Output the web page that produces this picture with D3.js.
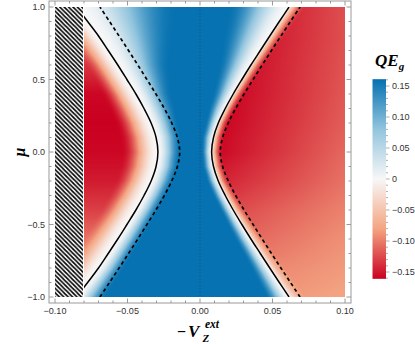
<!DOCTYPE html>
<html>
<head>
<meta charset="utf-8">
<script src="https://cdn.jsdelivr.net/npm/d3@7"></script>
<style>
	body { margin: 0; background: #fff; }
	svg { display: block; }
</style>
</head>
<body>
<div id="chart"></div>
<script>
const w = 415;
const h = 344;

// contour curves, one x value per mu level
const muLevels = [-1, -0.9, -0.8, -0.7, -0.6, -0.5, -0.4, -0.3, -0.2, -0.1, 0, 0.1, 0.2, 0.3, 0.4, 0.5, 0.6, 0.7, 0.8, 0.9, 1];
const solidLeft = [-0.085, -0.0775, -0.07, -0.0633, -0.0567, -0.0504, -0.0442, -0.0386, -0.0337, -0.0303, -0.029, -0.0303, -0.0337, -0.0386, -0.0442, -0.0504, -0.0567, -0.0633, -0.07, -0.0775, -0.085];
const solidRight = [0.0614, 0.0547, 0.0481, 0.0416, 0.0351, 0.0289, 0.0229, 0.0174, 0.0126, 0.0093, 0.008, 0.0093, 0.0126, 0.0174, 0.0229, 0.0289, 0.0351, 0.0416, 0.0481, 0.0547, 0.0614];
const dashedLeft = [-0.069, -0.0624, -0.0558, -0.0493, -0.0429, -0.0366, -0.0304, -0.0246, -0.0195, -0.0156, -0.014, -0.0156, -0.0195, -0.0246, -0.0304, -0.0366, -0.0429, -0.0493, -0.0558, -0.0624, -0.069];
const dashedRight = [0.069, 0.0624, 0.0558, 0.0493, 0.0429, 0.0366, 0.0304, 0.0246, 0.0195, 0.0156, 0.014, 0.0156, 0.0195, 0.0246, 0.0304, 0.0366, 0.0429, 0.0493, 0.0558, 0.0624, 0.069];

// colour profile of QE_g along each row, read at these mu levels
const profileMu = [-1, -0.8, -0.6, -0.4, -0.2, 0, 0.2, 0.4, 0.6, 0.8, 1];
const leftPeak = [-0.07, -0.085, -0.105, -0.13, -0.148, -0.158, -0.161, -0.158, -0.135, -0.1, -0.07];
const leftWidth = [0.02, 0.022, 0.024, 0.025, 0.025, 0.025, 0.025, 0.024, 0.022, 0.02, 0.02];
const bluePeak = [0.16, 0.16, 0.16, 0.16, 0.16, 0.16, 0.16, 0.16, 0.16, 0.16, 0.16];
const innerLeftWidth = [0.02, 0.018, 0.017, 0.016, 0.016, 0.016, 0.019, 0.025, 0.036, 0.052, 0.07];
const innerRightWidth = [0.016, 0.013, 0.011, 0.009, 0.008, 0.007, 0.009, 0.014, 0.022, 0.032, 0.042];
const outerRightWidth = [0.012, 0.011, 0.01, 0.009, 0.008, 0.008, 0.008, 0.009, 0.01, 0.011, 0.012];
const rightNear = [-0.085, -0.095, -0.11, -0.125, -0.145, -0.16, -0.161, -0.158, -0.153, -0.148, -0.143];
const rightEdge = [-0.08, -0.085, -0.09, -0.097, -0.105, -0.11, -0.115, -0.118, -0.12, -0.122, -0.122];

const hatchEdge = -0.08;
const xTicks = [-0.1, -0.05, 0, 0.05, 0.1];
const yTicks = [-1, -0.5, 0, 0.5, 1];
const barTicks = [-0.15, -0.1, -0.05, 0, 0.05, 0.1, 0.15];
const colorStops = [-0.161, -0.08, 0, 0.08, 0.161];
const colorList = ['#ca0020', '#f4a582', '#f7f7f7', '#92c5de', '#0571b0'];

const x = d3.scaleLinear().domain([-0.1, 0.1]).range([55, 345]);
const y = d3.scaleLinear().domain([-1, 1]).range([297, 7]);
const color = d3.scaleLinear().domain(colorStops).range(colorList).clamp(true);

const frame = {left: 49, right: 351, top: 1, bottom: 303};

const svg = d3
	.select('#chart')
	.append('svg')
	.attr('width', w)
	.attr('height', h)
	.attr('viewBox', `0 0 ${w} ${h}`)
	.style('font-family', 'Liberation Sans, Arial, sans-serif');

// ---- density image ----
const muScale = arr => d3.scaleLinear().domain(muLevels).range(arr);
const profScale = arr => d3.scaleLinear().domain(profileMu).range(arr);
const sL = muScale(solidLeft);
const sR = muScale(solidRight);
const pLeftPeak = profScale(leftPeak);
const pLeftW = profScale(leftWidth);
const pBlue = profScale(bluePeak);
const pInL = profScale(innerLeftWidth);
const pInR = profScale(innerRightWidth);
const pOutR = profScale(outerRightWidth);
const pNear = profScale(rightNear);
const pEdge = profScale(rightEdge);

const px0 = Math.round(x(hatchEdge));
const px1 = Math.round(x(0.1));
const py0 = Math.round(y(1));
const py1 = Math.round(y(-1));
const cw = px1 - px0;
const ch = py1 - py0;

const canvas = document.createElement('canvas');
canvas.width = cw;
canvas.height = ch;
const ctx = canvas.getContext('2d');
const img = ctx.createImageData(cw, ch);

for (let j = 0; j < ch; j++) {
	const mu = y.invert(py0 + j + 0.5);
	const left = sL(mu);
	const right = sR(mu);
	for (let i = 0; i < cw; i++) {
		const xv = x.invert(px0 + i + 0.5);
		let v;
		if (xv < left) {
			const t = Math.min(1, (left - xv) / pLeftW(mu));
			v = pLeftPeak(mu) * d3.easeSinInOut(t);
		} else if (xv > right) {
			const t = Math.min(1, (xv - right) / pOutR(mu));
			const amp = pNear(mu) + (pEdge(mu) - pNear(mu)) * Math.min(1, (xv - right) / (0.1 - right));
			v = amp * d3.easeQuadOut(t);
		} else {
			const tl = Math.min(1, (xv - left) / pInL(mu));
			const tr = Math.min(1, (right - xv) / pInR(mu));
			v = pBlue(mu) * Math.min(d3.easeSinInOut(tl), d3.easeSinInOut(tr));
		}
		const c = d3.rgb(color(v));
		const k = (j * cw + i) * 4;
		img.data[k] = c.r;
		img.data[k + 1] = c.g;
		img.data[k + 2] = c.b;
		img.data[k + 3] = 255;
	}
}
ctx.putImageData(img, 0, 0);

svg
	.append('image')
	.attr('x', px0)
	.attr('y', py0)
	.attr('width', cw)
	.attr('height', ch)
	.attr('preserveAspectRatio', 'none')
	.attr('href', canvas.toDataURL());

// ---- hatched strip ----
const defs = svg.append('defs');
const hp = 4.4;
const pat = defs
	.append('pattern')
	.attr('id', 'hatch')
	.attr('patternUnits', 'userSpaceOnUse')
	.attr('width', hp)
	.attr('height', hp);
pat.append('rect').attr('width', hp).attr('height', hp).attr('fill', '#fff');
pat
	.append('path')
	.attr('d', `M-1,-1 L${hp + 1},${hp + 1} M-1,${hp - 1} L1,${hp + 1} M${hp - 1},-1 L${hp + 1},1`)
	.attr('stroke', '#000')
	.attr('stroke-width', 1.6);

svg
	.append('rect')
	.attr('x', x(-0.1))
	.attr('y', y(1))
	.attr('width', x(hatchEdge) - x(-0.1) - 1)
	.attr('height', y(-1) - y(1))
	.attr('fill', 'url(#hatch)');

// ---- dotted line at zero ----
svg
	.append('line')
	.attr('x1', x(0))
	.attr('x2', x(0))
	.attr('y1', y(1))
	.attr('y2', y(-1))
	.attr('stroke', '#1d3550')
	.attr('stroke-width', 0.8)
	.attr('stroke-dasharray', '1,2.2')
	.attr('opacity', 0.7);

// ---- contour curves ----
defs
	.append('clipPath')
	.attr('id', 'clip')
	.append('rect')
	.attr('x', x(hatchEdge))
	.attr('y', y(1))
	.attr('width', x(0.1) - x(hatchEdge))
	.attr('height', y(-1) - y(1));

const curve = d3
	.line()
	.x(d => x(d[0]))
	.y(d => y(d[1]))
	.curve(d3.curveCatmullRom);

const curves = svg.append('g').attr('clip-path', 'url(#clip)').attr('fill', 'none').attr('stroke', '#000');

[solidLeft, solidRight].forEach(arr => {
	curves
		.append('path')
		.attr('d', curve(arr.map((v, i) => [v, muLevels[i]])))
		.attr('stroke-width', 1.5);
});
[dashedLeft, dashedRight].forEach(arr => {
	curves
		.append('path')
		.attr('d', curve(arr.map((v, i) => [v, muLevels[i]])))
		.attr('stroke-width', 1.7)
		.attr('stroke-dasharray', '3.5,3');
});

// ---- frame and ticks ----
svg
	.append('rect')
	.attr('x', frame.left)
	.attr('y', frame.top)
	.attr('width', frame.right - frame.left)
	.attr('height', frame.bottom - frame.top)
	.attr('fill', 'none')
	.attr('stroke', '#9a9a9a')
	.attr('stroke-width', 1);

const ticksG = svg.append('g').attr('stroke', '#9a9a9a').attr('stroke-width', 1);
const xMinor = d3.range(-10, 11).map(i => i / 100);
const yMinor = d3.range(-10, 11).map(i => i / 10);

xMinor.forEach(v => {
	const major = xTicks.some(t => Math.abs(t - v) < 1e-9);
	const len = major ? 4.5 : 2.5;
	ticksG.append('line').attr('x1', x(v)).attr('x2', x(v)).attr('y1', frame.bottom).attr('y2', frame.bottom - len);
	ticksG.append('line').attr('x1', x(v)).attr('x2', x(v)).attr('y1', frame.top).attr('y2', frame.top + len);
});
yMinor.forEach(v => {
	const major = yTicks.some(t => Math.abs(t - v) < 1e-9);
	const len = major ? 4.5 : 2.5;
	ticksG.append('line').attr('y1', y(v)).attr('y2', y(v)).attr('x1', frame.left).attr('x2', frame.left + len);
	ticksG.append('line').attr('y1', y(v)).attr('y2', y(v)).attr('x1', frame.right).attr('x2', frame.right - len);
});

const fmt2 = d3.format('.2f');
const fmt1 = d3.format('.1f');

svg
	.append('g')
	.selectAll('text')
	.data(xTicks)
	.enter()
	.append('text')
	.attr('x', d => x(d))
	.attr('y', 314)
	.attr('text-anchor', 'middle')
	.style('font-size', '9px')
	.attr('fill', '#333')
	.text(d => fmt2(d));

svg
	.append('g')
	.selectAll('text')
	.data(yTicks)
	.enter()
	.append('text')
	.attr('x', 45)
	.attr('y', d => y(d) + 3.2)
	.attr('text-anchor', 'end')
	.style('font-size', '9px')
	.attr('fill', '#333')
	.text(d => fmt1(d));

// ---- axis labels ----
const serif = 'Liberation Serif, Times New Roman, serif';

svg
	.append('text')
	.attr('transform', `translate(20, ${y(0)}) rotate(-90)`)
	.attr('text-anchor', 'middle')
	.attr('dy', '0.3em')
	.style('font-family', serif)
	.style('font-size', '16px')
	.style('font-weight', 'bold')
	.style('font-style', 'italic')
	.text('μ');

const xl = svg
	.append('g')
	.style('font-family', serif)
	.style('font-weight', 'bold')
	.style('font-style', 'italic');
xl.append('text').attr('x', 177).attr('y', 337).style('font-size', '16px').style('font-style', 'normal').text('−');
xl.append('text').attr('x', 188).attr('y', 337).style('font-size', '17px').text('V');
xl.append('text').attr('x', 205).attr('y', 328).style('font-size', '11.5px').text('ext');
xl.append('text').attr('x', 202.5).attr('y', 341.5).style('font-size', '11px').text('Z');

// ---- colour bar ----
const cb = d3.scaleLinear().domain([-0.15, 0.15]).range([272, 86]);
const grad = defs
	.append('linearGradient')
	.attr('id', 'cbgrad')
	.attr('x1', 0)
	.attr('x2', 0)
	.attr('y1', 1)
	.attr('y2', 0);
colorStops.forEach((s, i) => {
	grad
		.append('stop')
		.attr('offset', (s - colorStops[0]) / (colorStops[4] - colorStops[0]))
		.attr('stop-color', colorList[i]);
});
svg
	.append('rect')
	.attr('x', 372.5)
	.attr('y', cb(0.161))
	.attr('width', 13.5)
	.attr('height', cb(-0.161) - cb(0.161))
	.attr('fill', 'url(#cbgrad)');

const cbTicks = svg.append('g').attr('stroke', '#9a9a9a').attr('stroke-width', 0.8);
d3.range(-16, 17).map(i => i / 100).forEach(v => {
	const major = barTicks.some(t => Math.abs(t - v) < 1e-9);
	cbTicks
		.append('line')
		.attr('x1', 386)
		.attr('x2', major ? 389.5 : 388)
		.attr('y1', cb(v))
		.attr('y2', cb(v));
});

svg
	.append('g')
	.selectAll('text')
	.data(barTicks)
	.enter()
	.append('text')
	.attr('x', 392)
	.attr('y', d => cb(d) + 3.2)
	.style('font-size', '9px')
	.attr('fill', '#333')
	.text(d => (d === 0 ? '0' : fmt2(d)));

const title = svg
	.append('text')
	.attr('x', 375)
	.attr('y', 66)
	.style('font-family', serif)
	.style('font-weight', 'bold')
	.style('font-style', 'italic')
	.style('font-size', '17px');
title.append('tspan').text('QE');
title.append('tspan').attr('dy', 3.5).style('font-size', '11px').text('g');
</script>
</body>
</html>
